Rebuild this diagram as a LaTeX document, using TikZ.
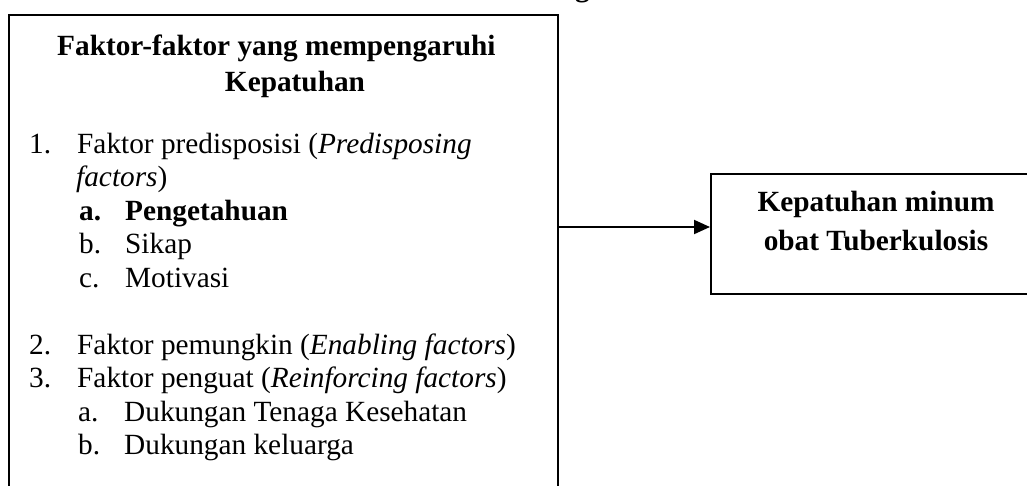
\documentclass[tikz,border=0pt]{standalone}
\usepackage{fontspec}
\setmainfont{Liberation Serif}
\usetikzlibrary{arrows.meta}
\begin{document}
\begin{tikzpicture}[x=1pt,y=-1pt,
  txt/.style={anchor=base west,inner sep=0pt,font=\fontsize{29.3}{33.5}\selectfont},
  btxt/.style={anchor=base west,inner sep=0pt,font=\fontsize{29.3}{33.5}\selectfont\bfseries},
  ctxt/.style={anchor=base,inner sep=0pt,font=\fontsize{29.3}{33.5}\selectfont\bfseries},
  frame/.style={draw=black,line width=2pt,anchor=north west,inner sep=0pt},
  conn/.style={line width=2pt,-{Triangle[length=16pt,width=14pt]}}]
\useasboundingbox (0,0) rectangle (1027,485);
% clipped title fragment
\node[btxt] (tg) at (575,-4) {g};
% boxes
\node[frame,minimum width=549pt,minimum height=486pt] (L) at (8,14) {};
\node[frame,minimum width=340pt,minimum height=120pt] (R) at (710,173) {};
% left box title
\node[btxt] (t1) at (57,55) {Faktor-faktor yang mempengaruhi};
\node[ctxt] (t2) at (295,91) {Kepatuhan};
% list
\node[txt] (n1) at (29,153) {1.};
\node[txt] (i1) at (77,153) {Faktor predisposisi (\textit{Predisposing}};
\node[txt] (i1b) at (76,186.5) {\textit{factors})};
\node[btxt] (s1a) at (79,220) {a.};
\node[btxt] (s1at) at (125,220) {Pengetahuan};
\node[txt] (s1b) at (79,253.5) {b.};
\node[txt] (s1bt) at (125,253.5) {Sikap};
\node[txt] (s1c) at (79,287) {c.};
\node[txt] (s1ct) at (125,287) {Motivasi};
\node[txt] (n2) at (29,354) {2.};
\node[txt] (i2) at (77,354) {Faktor pemungkin (\textit{Enabling factors})};
\node[txt] (n3) at (29,387.5) {3.};
\node[txt] (i3) at (77,387.5) {Faktor penguat (\textit{Reinforcing factors})};
\node[txt] (s3a) at (78,421) {a.};
\node[txt] (s3at) at (124,421) {Dukungan Tenaga Kesehatan};
\node[txt] (s3b) at (78,454.5) {b.};
\node[txt] (s3bt) at (124,454.5) {Dukungan keluarga};
% right box text
\node[ctxt] (r1) at (876,211) {Kepatuhan minum};
\node[ctxt] (r2) at (876,250) {obat Tuberkulosis};
% connector
\draw[conn] (L.east |- 0,227) -- (R.west |- 0,227);
\end{tikzpicture}
\end{document}
